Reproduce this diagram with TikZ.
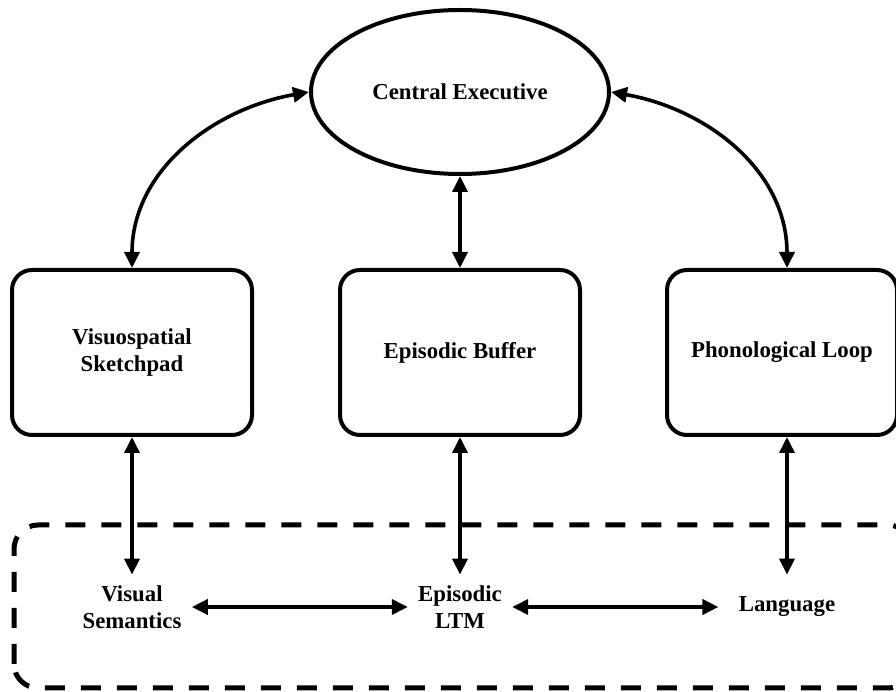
\documentclass[tikz,border=0pt]{standalone}
\usepackage{fontspec}
\setmainfont{Liberation Serif}
\usetikzlibrary{arrows.meta,positioning,shapes.geometric}

\begin{document}
\begin{tikzpicture}[
    x=0.5pt, y=0.5pt,
    node distance=42pt,
    txt/.style={font=\bfseries\fontsize{11.4}{13.6}\selectfont},
    blk/.style={txt, draw, line width=2pt, rounded corners=10pt, minimum width=120pt, minimum height=82.5pt, align=center},
    exec/.style={txt, draw, ellipse, line width=2pt, minimum width=149pt, minimum height=82pt},
    lbl/.style={txt, align=center, inner sep=5pt, minimum height=32pt},
    arr/.style={{Triangle[length=8pt,width=7.5pt]}-{Triangle[length=8pt,width=7.5pt]}, line width=1.8pt},
    ltmbox/.style={dash pattern=on 10pt off 8pt, line width=2.5pt, rounded corners=12pt}
]
\useasboundingbox (0,0) rectangle (896,692);

% long-term memory region
\draw[ltmbox] (14,4) rectangle (912,167);

\node[blk] (eb) at (460,339.5) {Episodic Buffer};
\node[blk, left=of eb] (vs) {Visuospatial\\Sketchpad};
\node[blk, right=41.5pt of eb, minimum width=115pt] (pl) {Phonological Loop};
\node[exec, above=46pt of eb] (ce) {Central Executive};

\node[lbl] (vsem) at (vs |- 0,85) {Visual\\Semantics};
\node[lbl] (ltm) at (eb |- 0,85) {Episodic\\LTM};
\node[lbl] (lang) at (787,85) {Language};

\draw[arr] (vs.north) to[out=90, in=190] (ce.west);
\draw[arr] (ce.east) to[out=-10, in=90] (pl.north -| lang.north);
\draw[arr] (ce.south) -- (eb.north);

\draw[arr] (vs.south) -- (vsem.north);
\draw[arr] (eb.south) -- (ltm.north);
\draw[arr] (pl.south -| lang.north) -- (lang.north);

\draw[arr] (vsem) -- (ltm);
\draw[arr, shorten >=5pt] (ltm) -- (lang);
\end{tikzpicture}
\end{document}
